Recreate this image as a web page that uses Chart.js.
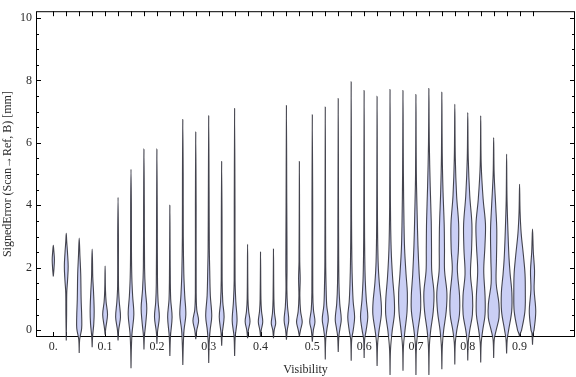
<!DOCTYPE html>
<html lang="en">
<head>
<meta charset="UTF-8">
<title>Signed error vs visibility</title>
<script src="https://cdn.jsdelivr.net/npm/chart.js@4.4.0/dist/chart.umd.min.js"></script>
<style>
  html, body { margin: 0; padding: 0; background: #fff; }
  #chart { display: block; }
</style>
</head>
<body>
<canvas id="chart" width="576" height="377"></canvas>
<script>
// one violin per visibility bin
const visibility = [0, 0.025, 0.05, 0.075, 0.1, 0.125, 0.15, 0.175, 0.2, 0.225,
                    0.25, 0.275, 0.3, 0.325, 0.35, 0.375, 0.4, 0.425, 0.45, 0.475,
                    0.5, 0.525, 0.55, 0.575, 0.6, 0.625, 0.65, 0.675, 0.7, 0.725,
                    0.75, 0.775, 0.8, 0.825, 0.85, 0.875, 0.9, 0.925];
const errorMin = [1.72, -0.33, -0.73, -0.55, -0.15, -0.33, -1.22, -0.62, -0.44, -0.83,
                  -1.12, -0.29, -1.05, -0.5, -0.83, -0.26, -0.2, -0.26, -0.31, -0.2,
                  -0.37, -0.94, -0.7, -0.98, -0.89, -1.15, -1.44, -1.3, -1.44, -1.44,
                  -1.25, -1.1, -0.97, -1.04, -0.89, -0.75, -0.2, -0.47];
const errorMax = [2.72, 3.1, 2.95, 2.6, 2.05, 4.25, 5.15, 5.8, 5.8, 4.0,
                  6.75, 6.35, 6.87, 5.4, 7.1, 2.75, 2.5, 2.6, 7.2, 5.4,
                  6.9, 7.15, 7.42, 7.96, 7.68, 7.49, 7.71, 7.68, 7.55, 7.74,
                  7.62, 7.24, 6.97, 6.87, 6.17, 5.64, 4.67, 3.24];
// [error, density] pairs between min and max
const densityProfile = [
  [[1.9, 0.5], [2.25, 1.1], [2.55, 0.5]],
  [[0.5, 0.35], [1.2, 0.5], [1.6, 1.3], [2.05, 1.9], [2.5, 1.2], [2.85, 0.45]],
  [[-0.3, 0.45], [0.05, 2.4], [0.4, 2.5], [1.0, 1.9], [1.8, 1.5], [2.4, 0.7]],
  [[-0.2, 0.45], [0.2, 1.6], [0.6, 2.0], [1.2, 1.4], [1.7, 0.6], [2.2, 0.35]],
  [[0.05, 0.6], [0.5, 2.4], [0.9, 1.0], [1.3, 0.35]],
  [[0.0, 0.6], [0.42, 2.4], [0.9, 1.2], [1.4, 0.45], [3.0, 0.35]],
  [[-0.6, 0.35], [-0.1, 1.0], [0.5, 2.8], [1.1, 1.6], [1.7, 0.8], [2.5, 0.45], [4.0, 0.35]],
  [[-0.2, 0.45], [0.2, 1.7], [0.7, 2.8], [1.3, 1.4], [2.0, 0.6], [4.0, 0.35]],
  [[-0.05, 0.6], [0.42, 2.4], [0.9, 1.2], [1.5, 0.6], [3.5, 0.35]],
  [[-0.2, 0.6], [0.42, 2.2], [1.0, 0.8], [2.0, 0.35]],
  [[-0.5, 0.45], [0.0, 1.2], [0.5, 3.0], [1.1, 1.9], [1.8, 1.0], [3.0, 0.45], [5.0, 0.35]],
  [[0.0, 1.0], [0.3, 2.8], [0.65, 1.0], [1.2, 0.4], [4.0, 0.35]],
  [[-0.4, 0.45], [0.0, 1.4], [0.45, 3.0], [1.1, 1.6], [1.9, 1.0], [2.6, 0.6], [4.5, 0.35]],
  [[-0.1, 0.6], [0.42, 2.4], [0.9, 1.1], [1.6, 0.45], [3.5, 0.35]],
  [[-0.2, 0.6], [0.3, 2.4], [0.9, 1.2], [1.6, 0.45], [4.0, 0.35]],
  [[0.0, 0.8], [0.28, 2.4], [0.6, 1.1], [1.0, 0.4]],
  [[0.0, 0.7], [0.27, 2.2], [0.6, 1.0], [1.0, 0.4]],
  [[0.0, 0.7], [0.22, 2.2], [0.55, 1.0], [1.0, 0.4]],
  [[0.0, 0.8], [0.32, 2.3], [0.75, 1.1], [1.3, 0.45], [2.0, 0.6], [4.0, 0.35]],
  [[0.0, 1.1], [0.26, 2.8], [0.6, 1.2], [1.1, 0.45], [1.65, 0.8], [2.2, 0.35]],
  [[0.0, 1.0], [0.27, 2.6], [0.65, 1.1], [1.2, 0.45], [4.0, 0.35]],
  [[-0.3, 0.45], [0.05, 1.7], [0.35, 3.0], [0.8, 1.4], [1.4, 0.8], [2.2, 0.4]],
  [[-0.2, 0.6], [0.05, 1.7], [0.35, 3.0], [0.85, 1.5], [1.5, 0.7], [3.0, 0.35]],
  [[-0.3, 0.5], [0.0, 2.0], [0.42, 3.4], [0.9, 2.0], [1.5, 1.2], [2.2, 0.7], [3.5, 0.35]],
  [[-0.3, 0.5], [0.0, 2.0], [0.42, 3.6], [0.95, 2.2], [1.6, 1.1], [2.4, 0.6], [3.5, 0.35]],
  [[-0.4, 0.6], [0.0, 2.0], [0.5, 4.2], [0.9, 4.0], [1.5, 2.2], [2.2, 1.0], [3.5, 0.4]],
  [[-0.6, 0.5], [0.0, 2.2], [0.5, 4.3], [1.0, 4.2], [1.7, 2.5], [2.6, 1.1], [4.0, 0.4]],
  [[-0.5, 0.5], [0.0, 2.0], [0.6, 4.0], [1.2, 4.3], [1.8, 3.0], [2.6, 1.6], [3.4, 1.0], [5.0, 0.4]],
  [[-0.5, 0.5], [0.0, 2.0], [0.6, 4.5], [1.1, 4.6], [1.8, 3.2], [2.7, 2.0], [3.7, 1.2], [5.0, 0.4]],
  [[-0.5, 0.5], [0.0, 1.8], [0.6, 4.3], [1.2, 5.0], [1.9, 2.8], [2.6, 2.6], [3.5, 2.3], [4.6, 1.3], [6.0, 0.4]],
  [[-0.5, 0.5], [0.0, 1.8], [0.6, 4.3], [1.2, 5.0], [1.9, 2.7], [2.6, 2.6], [3.4, 2.3], [4.4, 1.2], [5.6, 0.4]],
  [[-0.4, 0.5], [0.0, 2.0], [0.5, 4.6], [1.1, 4.7], [1.95, 2.5], [2.6, 3.6], [3.4, 3.8], [4.3, 1.8], [5.5, 0.5]],
  [[-0.4, 0.5], [0.0, 2.0], [0.5, 4.6], [1.1, 4.7], [1.8, 2.7], [2.6, 3.8], [3.4, 4.1], [4.3, 2.0], [5.5, 0.5]],
  [[-0.4, 0.5], [0.0, 2.0], [0.5, 4.3], [1.1, 4.3], [1.9, 3.0], [2.7, 4.2], [3.4, 4.7], [4.2, 2.4], [5.3, 0.5]],
  [[-0.3, 0.6], [0.0, 2.5], [0.4, 5.3], [0.85, 5.2], [1.5, 2.5], [2.3, 2.8], [3.2, 3.1], [4.0, 2.0], [5.0, 0.5]],
  [[-0.3, 0.6], [0.0, 2.0], [0.6, 5.0], [1.2, 5.2], [1.8, 3.5], [2.3, 2.4], [3.0, 1.5], [4.2, 0.4]],
  [[-0.1, 0.8], [0.0, 2.0], [0.6, 5.3], [1.2, 5.7], [1.8, 5.4], [2.4, 3.8], [3.1, 1.6], [3.8, 0.5]],
  [[-0.1, 0.6], [0.0, 1.5], [0.6, 3.2], [1.3, 1.6], [1.9, 2.0], [2.5, 0.8], [2.9, 0.4]]
];
const xTickValues = [0, 0.1, 0.2, 0.3, 0.4, 0.5, 0.6, 0.7, 0.8, 0.9];
const xTickLabels = ['0.', '0.1', '0.2', '0.3', '0.4', '0.5', '0.6', '0.7', '0.8', '0.9'];
const yTickValues = [0, 2, 4, 6, 8, 10];
const yTickLabels = ['0', '2', '4', '6', '8', '10'];

const densityToWidth = 0.00195; // x units per density unit
const tickFont = { family: 'Liberation Serif', size: 12 };
const textColor = '#2a2a2a';

function violinOutline(i) {
  const cx = visibility[i];
  const knots = densityProfile[i];
  const pts = [{ x: cx, y: errorMin[i] }];
  knots.forEach(([y, d]) => pts.push({ x: cx + d * densityToWidth, y: y }));
  pts.push({ x: cx, y: errorMax[i] });
  for (let k = knots.length - 1; k >= 0; k--) {
    pts.push({ x: cx - knots[k][1] * densityToWidth, y: knots[k][0] });
  }
  pts.push({ x: cx, y: errorMin[i] });
  return pts;
}

const datasets = visibility.map((v, i) => ({
  data: violinOutline(i),
  showLine: true,
  fill: 'shape',
  backgroundColor: 'rgb(202, 207, 245)',
  borderColor: 'rgba(50, 50, 60, 0.9)',
  borderWidth: 1.1,
  pointRadius: 0,
  tension: 0.35,
  clip: false
}));

// Mathematica-style frame with inward ticks
const framePlugin = {
  id: 'frame',
  beforeDatasetsDraw(chart) {
    const { ctx, chartArea: a, scales: { x, y } } = chart;
    ctx.save();
    ctx.strokeStyle = '#000';
    ctx.lineWidth = 1;
    ctx.strokeRect(a.left + 0.5, a.top + 0.5, a.right - a.left - 1, a.bottom - a.top - 1);
    ctx.beginPath();
    for (let v = 0; v <= 10; v += 0.5) {
      const py = Math.round(y.getPixelForValue(v)) + 0.5;
      const len = v % 2 === 0 ? 5 : 3;
      ctx.moveTo(a.left, py); ctx.lineTo(a.left + len, py);
      ctx.moveTo(a.right, py); ctx.lineTo(a.right - len, py);
    }
    visibility.forEach(v => {
      const px = Math.round(x.getPixelForValue(v)) + 0.5;
      ctx.moveTo(px, a.top); ctx.lineTo(px, a.top + 5);
      ctx.moveTo(px, a.bottom); ctx.lineTo(px, a.bottom - 5);
    });
    ctx.stroke();
    ctx.restore();
  }
};

new Chart(document.getElementById('chart'), {
  type: 'scatter',
  data: { datasets: datasets },
  plugins: [framePlugin],
  options: {
    responsive: false,
    animation: false,
    devicePixelRatio: 1,
    layout: { padding: { top: 4, right: 1, left: 0, bottom: 0 } },
    elements: { line: { capBezierPoints: false } },
    plugins: { legend: { display: false }, tooltip: { enabled: false } },
    scales: {
      x: {
        type: 'linear',
        min: -0.0334,
        max: 1.007,
        afterBuildTicks: s => { s.ticks = xTickValues.map(v => ({ value: v })); },
        afterFit: s => { s.height = 40; },
        ticks: {
          callback: v => xTickLabels[xTickValues.indexOf(v)],
          autoSkip: false, maxRotation: 0, padding: 3,
          font: tickFont, color: textColor
        },
        grid: { display: false, drawTicks: false },
        border: { display: false },
        title: {
          display: true, text: 'Visibility',
          font: { family: 'Liberation Serif', size: 12 }, color: textColor,
          padding: { top: 2, bottom: 0 }
        }
      },
      y: {
        type: 'linear',
        min: -0.22,
        max: 10.22,
        afterBuildTicks: s => { s.ticks = yTickValues.map(v => ({ value: v })); },
        afterFit: s => { s.width = 36; },
        ticks: {
          callback: v => yTickLabels[yTickValues.indexOf(v)],
          padding: 4, font: tickFont, color: textColor
        },
        grid: { display: false, drawTicks: false },
        border: { display: false },
        title: {
          display: true, text: 'SignedError (Scan\u2192Ref, B) [mm]',
          font: { family: 'Liberation Serif', size: 12 }, color: textColor,
          padding: { top: 1, bottom: 0 }
        }
      }
    }
  }
});
</script>
</body>
</html>
